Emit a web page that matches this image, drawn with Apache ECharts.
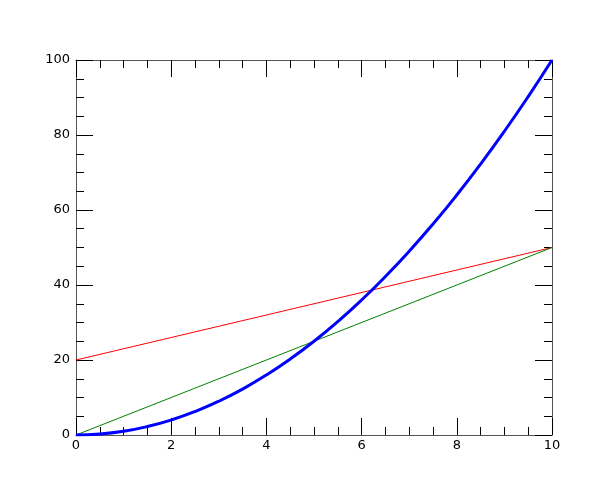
<!DOCTYPE html>
<html><head><meta charset="utf-8">
<script src="https://cdn.jsdelivr.net/npm/echarts@6/dist/echarts.min.js"></script>
<style>html,body{margin:0;padding:0;background:#fff}#c{width:600px;height:500px}</style>
</head><body><div id="c"></div>
<script>
const xs = [0,0.5,1,1.5,2,2.5,3,3.5,4,4.5,5,5.5,6,6.5,7,7.5,8,8.5,9,9.5,10];
const blueY = [0,0.25,1,2.25,4,6.25,9,12.25,16,20.25,25,30.25,36,42.25,49,56.25,64,72.25,81,90.25,100];
const redX = [0,10];
const redY = [20,50];
const greenX = [0,10];
const greenY = [0,50];

const chart = echarts.init(document.getElementById('c'), null, {renderer:'canvas'});
const font = {fontFamily:'DejaVu Sans', fontSize:13, color:'#000'};
function ax(pos, isX, show) {
  return {
    type:'value', position:pos,
    min:0, max:isX?10:100, interval:isX?2:20,
    axisLine:{show:true, onZero:false, lineStyle:{color:'#555', width:1}},
    axisTick:{show:true, inside:true, length:17, lineStyle:{color:'#000', width:1}},
    minorTick:{show:true, splitNumber:4, length:8, lineStyle:{color:'#000', width:1}},
    splitLine:{show:false},
    axisLabel:{show:show, margin:isX?4:6, ...font},
  };
}
chart.setOption({
  animation:false,
  grid:{left:76, right:48, top:60, bottom:65},
  xAxis:[ax('bottom',true,true), ax('top',true,false)],
  yAxis:[ax('left',false,true), ax('right',false,false)],
  series:[
    {type:'line', data:redX.map((x,i)=>[x,redY[i]]), symbol:'none', lineStyle:{color:'#ff0000', width:1}},
    {type:'line', data:greenX.map((x,i)=>[x,greenY[i]]), symbol:'none', lineStyle:{color:'#008000', width:1}},
    {type:'line', data:xs.map((x,i)=>[x,blueY[i]]), symbol:'none', smooth:true, lineStyle:{color:'#0000ff', width:3}}
  ]
});
</script></body></html>
